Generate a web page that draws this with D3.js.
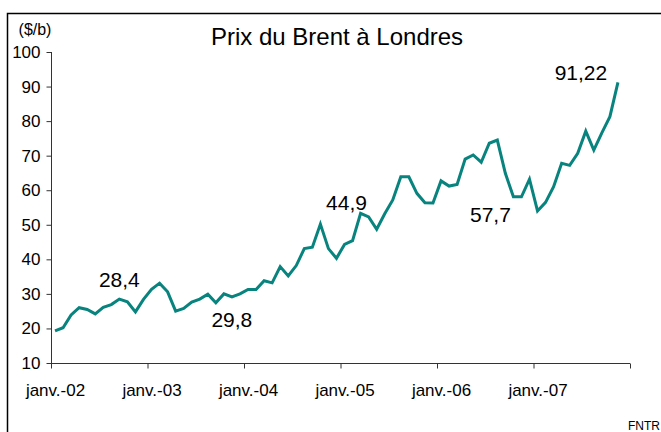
<!DOCTYPE html>
<html>
<head>
<meta charset="utf-8">
<script src="https://cdn.jsdelivr.net/npm/d3@7"></script>
<style>
  body { margin: 0; background: #fff; }
  text { font-family: "Liberation Sans", Arial, sans-serif; fill: #000; }
</style>
</head>
<body>
<div id="chart"></div>
<script>
// chart values (monthly Brent, $/b), jan 2002 -> nov 2007
const startYear = 2002
const prices = [
  19.3, 20.2, 23.9, 26.0, 25.5, 24.2, 26.1, 26.9, 28.5, 27.7, 24.8, 28.4,
  31.3, 33.1, 30.6, 25.0, 25.8, 27.6, 28.5, 29.9, 27.4, 30.0, 29.1, 30.0,
  31.3, 31.3, 33.8, 33.2, 37.9, 35.2, 38.2, 43.1, 43.5, 50.2, 43.1, 40.3,
  44.3, 45.4, 53.3, 52.3, 48.7, 53.2, 57.2, 63.9, 63.9, 59.1, 56.4, 56.3,
  62.7, 61.2, 61.7, 69.0, 70.2, 68.1, 73.6, 74.5, 64.9, 58.1, 58.1, 63.2,
  54.0, 56.5, 61.0, 67.8, 67.2, 70.7, 77.1, 71.6, 76.6, 81.3, 91.2
]
const yTicks = [10, 20, 30, 40, 50, 60, 70, 80, 90, 100]
const xTickLabels = ["janv.-02", "janv.-03", "janv.-04", "janv.-05", "janv.-06", "janv.-07", ""]
// value labels and the month they sit next to
const callouts = [
  {text: "28,4", month: 8},
  {text: "29,8", month: 19},
  {text: "44,9", month: 36},
  {text: "57,7", month: 57},
  {text: "91,22", month: 70}
]

const width = 661, height = 432

let svg = d3.select("#chart")
    .append("svg")
    .attr("width", width)
    .attr("height", height)

// outer frame
svg.append("rect")
    .attr("x", 7.5).attr("y", 13.5)
    .attr("width", 700).attr("height", 500)
    .attr("fill", "none")
    .attr("stroke", "#000")
    .attr("stroke-width", 1.5)

// scales: x in months since jan 2002, points at mid-month
let x = d3.scaleLinear()
    .domain([0, 72])
    .range([51, 630])
let y = d3.scaleLinear()
    .domain([10, 100])
    .range([363, 52])

// y axis
svg.append("g")
    .attr("transform", "translate(51.5,0)")
    .call(d3.axisLeft(y).tickValues(yTicks).tickSize(5).tickPadding(6).tickFormat(d3.format("d")))
    .call(g => g.select(".domain").attr("d", `M0,${y(100)}V${y(10)}`))
    .call(g => g.selectAll("line, path").attr("stroke", "#333"))
    .call(g => g.selectAll("text").style("font-size", "17px").style("font-family", "Liberation Sans, Arial, sans-serif"))

// x axis
let xTicks = d3.range(0, 73, 12)
svg.append("g")
    .attr("transform", `translate(0,${y(10) + 0.5})`)
    .call(d3.axisBottom(x).tickValues(xTicks).tickSize(5).tickPadding(15)
        .tickFormat((d, i) => xTickLabels[i]))
    .call(g => g.select(".domain").attr("d", `M${x(0)},0H${x(72)}`))
    .call(g => g.selectAll("line, path").attr("stroke", "#333"))
    .call(g => g.selectAll("text").attr("dx", 4).style("font-size", "17px").style("font-family", "Liberation Sans, Arial, sans-serif"))

// line
let line = d3.line()
    .x((d, i) => x(i + 0.5))
    .y(d => y(d))

svg.append("path")
    .datum(prices)
    .attr("fill", "none")
    .attr("stroke", "#08837e")
    .attr("stroke-width", 3)
    .attr("stroke-linejoin", "miter")
    .attr("d", line)

// title
svg.append("text")
    .attr("x", 337)
    .attr("y", 45)
    .attr("text-anchor", "middle")
    .style("font-size", "24px")
    .text("Prix du Brent à Londres")

// unit
svg.append("text")
    .attr("x", 35)
    .attr("y", 35)
    .attr("text-anchor", "middle")
    .style("font-size", "16px")
    .text("($/b)")

// callouts: offsets from the data point
let offsets = {"28,4": [0, -12], "29,8": [24, 33], "44,9": [2, -34], "57,7": [-23, 25], "91,22": [-37, -2]}
callouts.forEach(c => {
    let o = offsets[c.text]
    svg.append("text")
        .attr("x", x(c.month + 0.5) + o[0])
        .attr("y", y(prices[c.month]) + o[1])
        .attr("text-anchor", "middle")
        .style("font-size", "21px")
        .text(c.text)
})

// source
svg.append("text")
    .attr("x", 628)
    .attr("y", 430)
    .style("font-size", "12px")
    .text("FNTR")
</script>
</body>
</html>
